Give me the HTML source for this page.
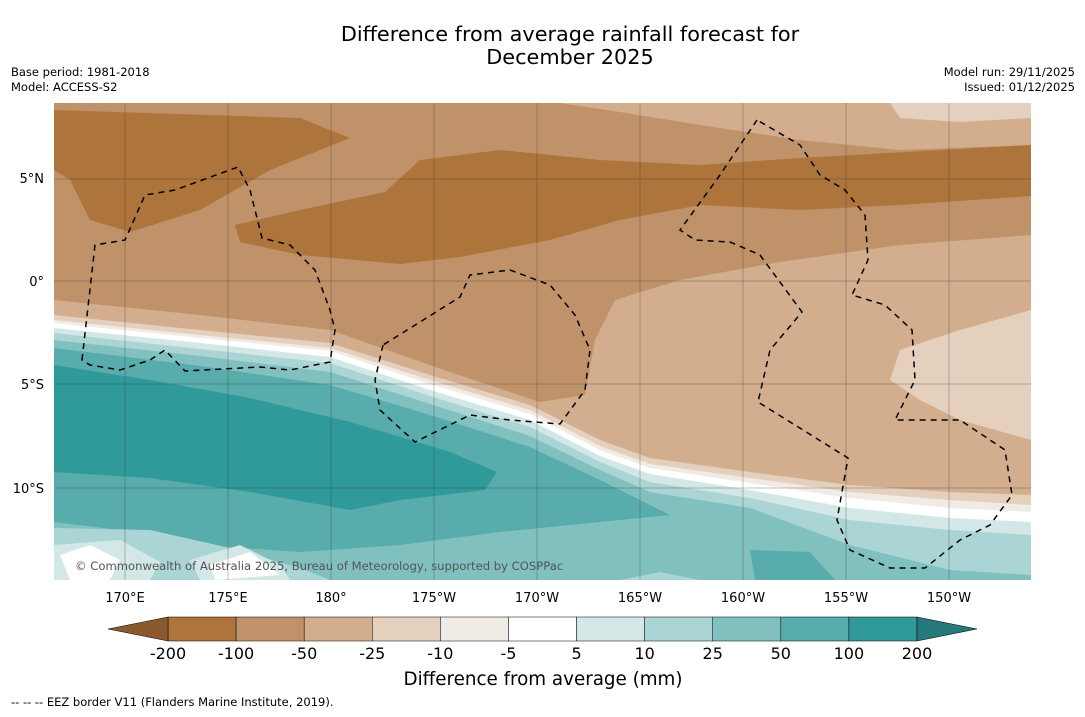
<!DOCTYPE html>
<html><head><meta charset="utf-8"><style>
body{margin:0;background:#fff;font-family:"DejaVu Sans",sans-serif}
svg text{font-family:"DejaVu Sans","Liberation Sans",sans-serif}
</style></head><body>
<svg width="1085" height="713" viewBox="0 0 1085 713" xmlns="http://www.w3.org/2000/svg">
<text x="570" y="41" font-size="20.8" text-anchor="middle">Difference from average rainfall forecast for</text>
<text x="570" y="64" font-size="20.8" text-anchor="middle">December 2025</text>
<text x="11" y="76" font-size="11.5">Base period: 1981-2018</text>
<text x="11" y="91" font-size="11.5">Model: ACCESS-S2</text>
<text x="1075" y="76" font-size="11.5" text-anchor="end">Model run: 29/11/2025</text>
<text x="1075" y="91" font-size="11.5" text-anchor="end">Issued: 01/12/2025</text>
<defs><clipPath id="mc"><rect x="54" y="103" width="977" height="477"/></clipPath></defs>
<g clip-path="url(#mc)">
<rect x="54" y="103" width="977" height="477" fill="#c0926a"/>
<path d="M560,103 L1031,103 L1031,145 L900,150 L800,140 L700,125 L620,112 Z" fill="#d2ae8e"/>
<path d="M890,103 L1031,103 L1031,118 L960,122 L900,118 Z" fill="#e4d0bd"/>
<path d="M54,110 L300,118 L350,138 L270,170 L200,210 L130,232 L90,220 L70,180 L54,170 Z" fill="#ad743c"/>
<path d="M235,225 L300,210 L385,192 L420,160 L500,150 L600,160 L700,165 L800,158 L1031,145 L1031,196 L900,205 L800,210 L700,205 L620,220 L550,240 L460,257 L400,264 L300,255 L240,242 Z" fill="#ad743c"/>
<path d="M1031,235 L900,245 L780,262 L680,280 L615,300 L595,340 L585,395 L540,402 L450,372 L330,330 L200,315 L54,300 L54,580 L1031,580 Z" fill="#d2ae8e"/>
<path d="M1031,310 L960,330 L900,350 L890,380 L920,400 L960,420 L1031,440 Z" fill="#e4d0bd"/>
<g>
<path d="M54,315 L200,330 L330,343 L430,375 L530,405 L600,440 L650,458 L750,472 L850,485 L950,492 L1031,495 L1031,580 L54,580 Z" fill="#e4d0bd"/>
<path d="M54,320 L200,335 L330,348 L430,380 L530,410 L600,446 L650,464 L750,478 L850,492 L950,500 L1031,505 L1031,580 L54,580 Z" fill="#f1ebe5"/>
<path d="M54,323 L200,338 L330,351 L430,384 L530,414 L600,450 L650,468 L750,483 L850,498 L950,508 L1031,512 L1031,580 L54,580 Z" fill="#ffffff"/>
<path d="M54,328 L200,343 L330,357 L430,390 L530,420 L600,456 L650,474 L750,490 L850,508 L950,518 L1031,522 L1031,580 L54,580 Z" fill="#d3e8e6"/>
<path d="M54,333 L200,349 L330,363 L430,396 L530,427 L600,462 L650,482 L750,498 L850,520 L950,530 L1031,535 L1031,580 L54,580 Z" fill="#aad5d4"/>
<path d="M54,340 L200,356 L330,372 L430,404 L530,436 L600,470 L650,492 L750,508 L850,545 L950,570 L1031,575 L1031,580 L54,580 Z" fill="#80c0bf"/>
</g>
<path d="M54,348 L200,366 L330,385 L430,415 L530,447 L600,480 L670,515 L600,522 L500,532 L400,545 L300,552 L200,545 L120,530 L54,522 Z" fill="#58acab"/>
<path d="M54,365 L150,380 L250,398 L350,422 L450,452 L497,472 L485,490 L400,500 L350,510 L250,492 L150,478 L54,472 Z" fill="#30999a"/>
<path d="M54,528 L150,530 L230,548 L300,568 L330,580 L54,580 Z" fill="#aad5d4"/>
<path d="M54,545 L120,540 L160,562 L150,580 L54,580 Z" fill="#d3e8e6"/>
<path d="M60,555 L90,545 L120,560 L110,580 L70,580 Z" fill="#ffffff"/>
<path d="M190,560 L240,545 L280,565 L290,580 L200,580 Z" fill="#d3e8e6"/>
<path d="M210,565 L250,552 L280,575 L215,580 Z" fill="#ffffff"/>
<path d="M750,550 L810,552 L835,580 L755,580 Z" fill="#58acab"/>
<path d="M620,580 L660,572 L700,580 Z" fill="#aad5d4"/>
<g stroke="#333" stroke-width="0.5" stroke-opacity="0.6">
<line x1="125" y1="103" x2="125" y2="580"/><line x1="228" y1="103" x2="228" y2="580"/><line x1="331" y1="103" x2="331" y2="580"/><line x1="434" y1="103" x2="434" y2="580"/><line x1="537" y1="103" x2="537" y2="580"/><line x1="640" y1="103" x2="640" y2="580"/><line x1="743" y1="103" x2="743" y2="580"/><line x1="846" y1="103" x2="846" y2="580"/><line x1="949" y1="103" x2="949" y2="580"/>
<line x1="54" y1="179" x2="1031" y2="179"/><line x1="54" y1="281" x2="1031" y2="281"/><line x1="54" y1="384" x2="1031" y2="384"/><line x1="54" y1="488" x2="1031" y2="488"/>
</g>
<g fill="none" stroke="#000" stroke-width="1.5" stroke-dasharray="6,5">
<path d="M82,360 L95,245 L125,240 L145,195 L175,190 L238,167 L250,190 L262,238 L290,245 L315,270 L330,310 L335,330 L330,362 L290,370 L260,367 L185,371 L165,350 L150,360 L120,370 L90,365 Z"/>
<path d="M383,345 L375,380 L380,410 L415,442 L470,415 L510,420 L560,424 L585,390 L590,350 L575,315 L550,285 L510,270 L470,275 L460,297 L420,322 Z"/>
<path d="M757,120 L720,175 L680,230 L695,240 L730,242 L760,255 L802,312 L770,350 L758,402 L848,458 L837,520 L850,550 L890,568 L925,568 L960,540 L990,525 L1012,495 L1005,450 L960,420 L920,420 L895,420 L915,380 L912,330 L885,305 L852,295 L868,260 L865,215 L845,190 L820,175 L800,145 Z"/>
</g>
<text x="75" y="570" font-size="11.6" fill="#555">© Commonwealth of Australia 2025, Bureau of Meteorology, supported by COSPPac</text>
</g>
<g font-size="13">
<text x="44" y="183" text-anchor="end">5°N</text><text x="44" y="286" text-anchor="end">0°</text><text x="44" y="389" text-anchor="end">5°S</text><text x="44" y="493" text-anchor="end">10°S</text>
<text x="125" y="602" text-anchor="middle">170°E</text><text x="228" y="602" text-anchor="middle">175°E</text><text x="331" y="602" text-anchor="middle">180°</text><text x="434" y="602" text-anchor="middle">175°W</text><text x="537" y="602" text-anchor="middle">170°W</text><text x="640" y="602" text-anchor="middle">165°W</text><text x="743" y="602" text-anchor="middle">160°W</text><text x="846" y="602" text-anchor="middle">155°W</text><text x="949" y="602" text-anchor="middle">150°W</text>
</g>
<g id="cbar"></g>
<text x="543" y="685" font-size="18.3" text-anchor="middle">Difference from average (mm)</text>
<text x="11" y="706" font-size="11.5">--  --  -- EEZ border V11 (Flanders Marine Institute, 2019).</text>
</svg>
<script>
const levels=["-200","-100","-50","-25","-10","-5","5","10","25","50","100","200"];
const binColors=["#ad743c","#c0926a","#d2ae8e","#e4d0bd","#f1ebe5","#ffffff","#d3e8e6","#aad5d4","#80c0bf","#58acab","#30999a"];
const extColors=["#8a5a2e","#26797a"];
const g=document.getElementById('cbar');const ns="http://www.w3.org/2000/svg";
const x0=168,x1=917,y0=617,h=24,w=(x1-x0)/binColors.length;
function mk(t,a){const e=document.createElementNS(ns,t);for(const k in a)e.setAttribute(k,a[k]);g.appendChild(e);return e;}
binColors.forEach((c,i)=>{const r=mk('rect',{x:x0+i*w,y:y0,width:w,height:h,fill:c,stroke:'#000','stroke-width':0.5});

});
const l=mk('polygon',{points:`${x0},${y0} ${x0},${y0+h} 108,${y0+h/2}`,fill:extColors[0],stroke:'#000','stroke-width':0.5});


const r2=mk('polygon',{points:`${x1},${y0} ${x1},${y0+h} 977,${y0+h/2}`,fill:extColors[1],stroke:'#000','stroke-width':0.5});


levels.forEach((v,i)=>{const t=mk('text',{x:x0+i*w,y:659,'font-size':16,'text-anchor':'middle'});t.textContent=v;

});
</script>
</body></html>
